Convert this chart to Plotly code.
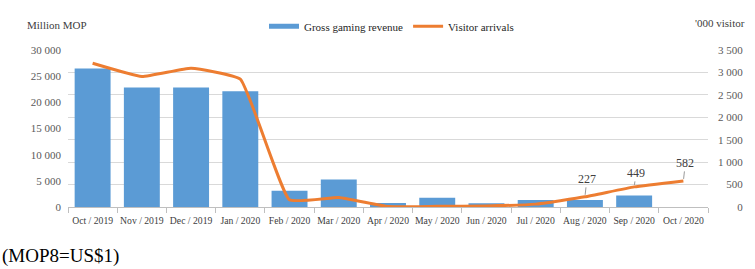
import plotly.graph_objects as go

months = ["Oct / 2019", "Nov / 2019", "Dec / 2019", "Jan / 2020", "Feb / 2020", "Mar / 2020",
          "Apr / 2020", "May / 2020", "Jun / 2020", "Jul / 2020", "Aug / 2020", "Sep / 2020", "Oct / 2020"]
ggr = [26443, 22842, 22838, 22126, 3104, 5257, 754, 1764, 716, 1344, 1330, 2211, None]
visitors = [3205, 2910, 3095, 2850, 160, 212, 11, 16, 23, 64, 227, 449, 582]
labelled = {"Aug / 2020": 227, "Sep / 2020": 449, "Oct / 2020": 582}

left_vals = [0, 5000, 10000, 15000, 20000, 25000, 30000]
left_text = ["0", "5 000", "10 000", "15 000", "20 000", "25 000", "30 000"]
right_vals = [0, 500, 1000, 1500, 2000, 2500, 3000, 3500]
F = "\u2007"
right_text = [F * 3 + " 0", F + " 500", "1 000", "1 500", "2 000", "2 500", "3 000", "3 500"]

BLUE = "#5B9BD5"
ORANGE = "#ED7D31"
SERIF = "Liberation Serif, Times New Roman, serif"
TXT = "#595959"

fig = go.Figure()
fig.add_trace(go.Bar(x=months, y=ggr, marker=dict(color=BLUE, line=dict(width=0)),
                     name="Gross gaming revenue", showlegend=False))
fig.add_trace(go.Scatter(x=[None], y=[None], mode="lines", line=dict(color=BLUE, width=5),
                         name="Gross gaming revenue"))
fig.add_trace(go.Scatter(x=months, y=visitors, mode="lines", yaxis="y2",
                         line=dict(color=ORANGE, width=3, shape="spline", smoothing=0.35),
                         name="Visitor arrivals"))

for m, v in labelled.items():
    ay = -14 if v == 449 else -18
    fig.add_annotation(x=m, y=v, yref="y2", text=str(v), showarrow=True, arrowhead=0,
                       arrowwidth=0.8, arrowcolor="#7f7f7f", ax=2, ay=ay, standoff=2,
                       font=dict(family=SERIF, size=12, color="#404040"))

fig.add_annotation(xref="paper", yref="paper", x=(25 - 68) / 640, y=(207 - 16) / 165,
                   xanchor="left", yanchor="middle", text="Million MOP", showarrow=False,
                   font=dict(family=SERIF, size=11, color="#404040"))
fig.add_annotation(xref="paper", yref="paper", x=(747 - 68) / 640, y=(207 - 14) / 165,
                   xanchor="right", yanchor="middle", text="'000 visitor", showarrow=False,
                   font=dict(family=SERIF, size=11, color="#404040"))
fig.add_annotation(xref="paper", yref="paper", x=(0 - 68) / 640, y=(207 - 259) / 165,
                   xanchor="left", yanchor="middle", text="(MOP8=US$1)", showarrow=False,
                   font=dict(family=SERIF, size=19, color="#000000"))

fig.update_layout(
    width=755, height=269, autosize=False,
    margin=dict(l=68, r=47, t=42, b=62),
    paper_bgcolor="white", plot_bgcolor="white",
    bargap=0.27,
    font=dict(family=SERIF, size=11, color=TXT),
    legend=dict(orientation="h", x=(264 - 68) / 640, y=(207 - 17) / 165, xanchor="left",
                yanchor="middle", font=dict(family=SERIF, size=11, color="#262626"),
                itemwidth=30, bgcolor="rgba(0,0,0,0)"),
    xaxis=dict(type="category", categoryorder="array", categoryarray=months,
               showgrid=False, showline=True, linecolor="#BFBFBF", linewidth=1,
               ticks="outside", tickson="boundaries", ticklen=5, tickcolor="#BFBFBF",
               tickangle=0, automargin=False, ticklabelstandoff=4,
               tickfont=dict(family=SERIF, size=9.7, color="#404040"), zeroline=False),
    yaxis=dict(range=[0, 30000], tickvals=left_vals, ticktext=left_text, showgrid=False,
               zeroline=False, showline=False, ticks="", automargin=False,
               tickfont=dict(family=SERIF, size=11, color=TXT), ticklabelstandoff=6),
    yaxis2=dict(range=[0, 3500], tickvals=right_vals, ticktext=right_text, overlaying="y",
                side="right", showgrid=True, gridcolor="#D9D9D9", gridwidth=1, zeroline=False,
                showline=False, ticks="", automargin=False,
                tickfont=dict(family=SERIF, size=11, color=TXT), ticklabelstandoff=9),
)

fig.write_html("out.html", config={"displayModeBar": False},
               post_script="document.body.style.margin='0';document.body.style.overflow='hidden';")
